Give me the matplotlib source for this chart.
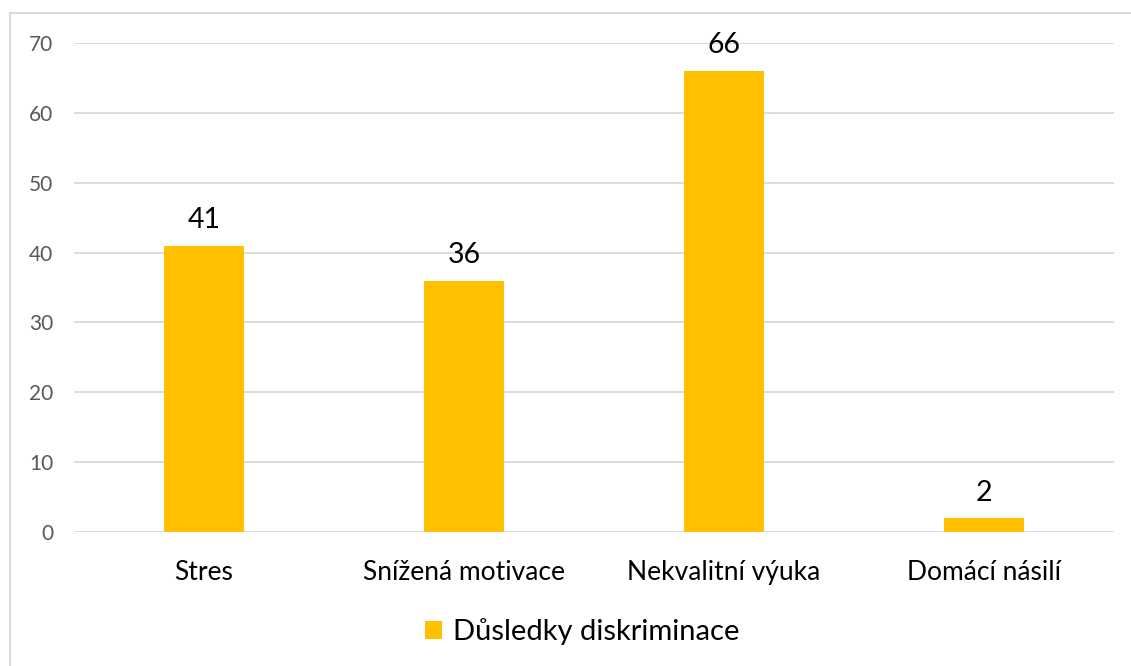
import matplotlib
matplotlib.use("Agg")
import matplotlib.pyplot as plt
from matplotlib.patches import Rectangle

categories = ["Stres", "Snížená motivace", "Nekvalitní výuka", "Domácí násilí"]
values = [41, 36, 66, 2]
series_name = "Důsledky diskriminace"
yticks = [0, 10, 20, 30, 40, 50, 60, 70]

W, H = 1131, 666
fig = plt.figure(figsize=(W / 100, H / 100), dpi=100)
plt.rcParams["font.family"] = ["Lato", "DejaVu Sans"]

# light outer frame of the chart area
fig.patches.append(Rectangle((10 / W, -0.01), 1.02, 1 - 13 / H + 0.01,
                             transform=fig.transFigure, fill=False,
                             edgecolor="#d9d9d9", linewidth=1.5))

ax = fig.add_axes([74 / W, (H - 532) / H, (1114 - 74) / W, (532 - 43) / H])
bar_color = "#ffc000"
x = list(range(len(categories)))
bars = ax.bar(x, values, width=0.31, color=bar_color, label=series_name, zorder=3)

ax.set_xlim(-0.5, len(categories) - 0.5)
ax.set_ylim(0, 70)
ax.set_yticks(yticks)
ax.yaxis.grid(True, color="#d9d9d9", linewidth=1.3, zorder=0)
for s in ax.spines.values():
    s.set_visible(False)
ax.tick_params(axis="y", length=0, pad=15, labelsize=15, labelcolor="#595959")
ax.tick_params(axis="x", length=0, pad=20, labelsize=19, labelcolor="#000000")
ax.set_xticks(x)
ax.set_xticklabels(categories)

for xi, v in zip(x, values):
    ax.annotate(str(v), (xi, v), xytext=(0, 9), textcoords="offset points",
                ha="center", va="bottom", fontsize=20.5, color="#000000")

leg = fig.legend(handles=[bars], labels=[series_name], loc="center",
                 bbox_to_anchor=(582 / W, 1 - 632 / H), frameon=False,
                 fontsize=21, handlelength=0.6, handleheight=0.6, handletextpad=0.35)

fig.savefig("out.png", dpi=100, facecolor="white")
